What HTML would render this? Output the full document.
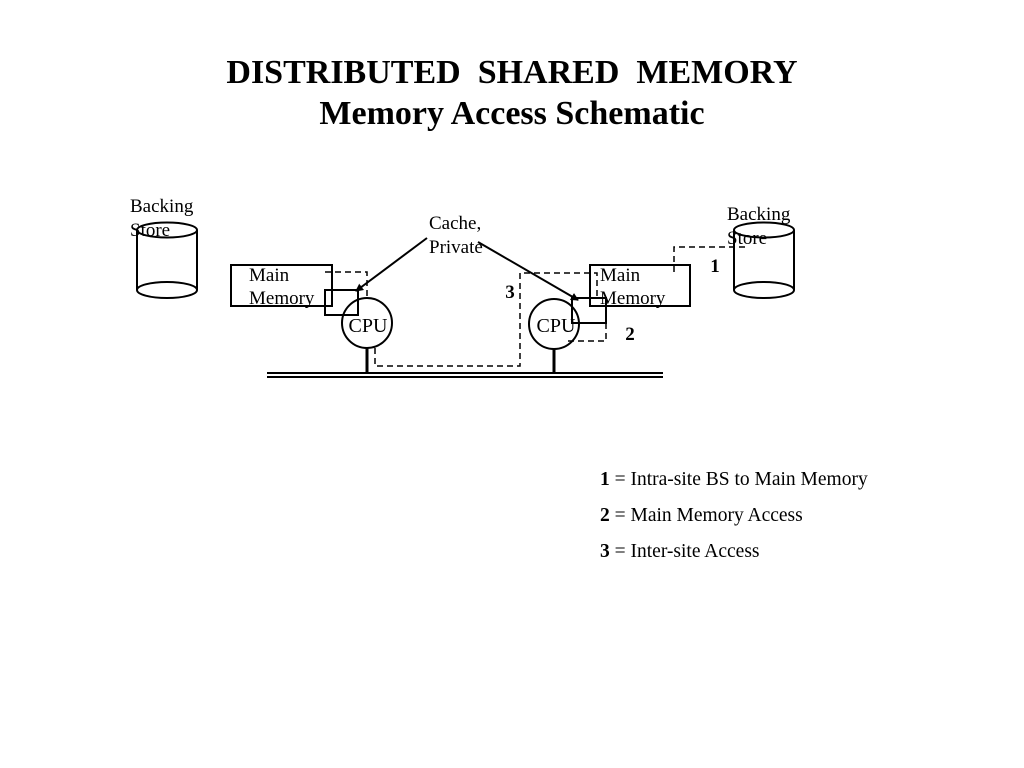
<!DOCTYPE html>
<html><head><meta charset="utf-8"><style>
html,body{margin:0;padding:0;background:#fff;}
svg{display:block}
text{font-family:"Liberation Serif",serif;fill:#000}
</style></head><body>
<svg width="1024" height="768" viewBox="0 0 1024 768" xmlns="http://www.w3.org/2000/svg">
<defs><marker id="ah" markerWidth="8" markerHeight="8" refX="7" refY="4" orient="auto" markerUnits="userSpaceOnUse"><path d="M0,0 L8,4 L0,8 z" fill="#000"/></marker></defs>
<text x="512" y="83" font-size="34" font-weight="bold" text-anchor="middle">DISTRIBUTED&#160; SHARED&#160; MEMORY</text>
<text x="512" y="124" font-size="34" font-weight="bold" text-anchor="middle">Memory Access Schematic</text>
<g fill="none" stroke="#000" stroke-width="2">
<path d="M137,230 L137,290 A30,8 0 0 0 197,290 L197,230"/>
<ellipse cx="167" cy="230" rx="30" ry="7.5"/>
<path d="M137,290 A30,8 0 0 1 197,290"/>
<path d="M734,230 L734,290 A30,8 0 0 0 794,290 L794,230"/>
<ellipse cx="764" cy="230" rx="30" ry="7.5"/>
<path d="M734,290 A30,8 0 0 1 794,290"/>
<rect x="231" y="265" width="101" height="41"/>
<rect x="325" y="290" width="33" height="25"/>
<rect x="590" y="265" width="100" height="41"/>
<rect x="572" y="298" width="34" height="25"/>
<circle cx="367" cy="323" r="25"/>
<circle cx="554" cy="324" r="25"/>
</g>
<g stroke="#000" stroke-width="3">
<line x1="367" y1="348" x2="367" y2="373"/>
<line x1="554" y1="349" x2="554" y2="373"/>
</g>
<g stroke="#000" stroke-width="2">
<line x1="267" y1="373" x2="663" y2="373"/>
<line x1="267" y1="377" x2="663" y2="377"/>
<line x1="427" y1="238" x2="356" y2="291" marker-end="url(#ah)"/>
<line x1="478" y1="242" x2="578" y2="300" marker-end="url(#ah)"/>
</g>
<g fill="none" stroke="#000" stroke-width="1.5" stroke-dasharray="6,4">
<polyline points="325,272 367,272 367,300"/>
<polyline points="375,348 375,366 520,366 520,273 597,273 597,300"/>
<polyline points="606,323 606,341 564,341"/>
<polyline points="674,272 674,247 746,247"/>
</g>
<g font-size="19">
<text x="130" y="212">Backing</text><text x="130" y="236">Store</text>
<text x="727" y="220">Backing</text><text x="727" y="244">Store</text>
<text x="429" y="229">Cache,</text><text x="429" y="253">Private</text>
<text x="249" y="281">Main</text><text x="249" y="304">Memory</text>
<text x="600" y="281">Main</text><text x="600" y="304">Memory</text>
<text x="368" y="332" text-anchor="middle" font-size="20">CPU</text>
<text x="556" y="332" text-anchor="middle" font-size="20">CPU</text>
<text x="715" y="272" font-weight="bold" text-anchor="middle">1</text>
<text x="510" y="298" font-weight="bold" text-anchor="middle">3</text>
<text x="630" y="340" font-weight="bold" text-anchor="middle">2</text>
<g font-size="19.5">
<text x="600" y="485"><tspan font-weight="bold">1</tspan> = Intra-site BS to Main Memory</text>
<text x="600" y="521"><tspan font-weight="bold">2</tspan> = Main Memory Access</text>
<text x="600" y="557"><tspan font-weight="bold">3</tspan> = Inter-site Access</text>
</g>
</g>
</svg>
</body></html>
